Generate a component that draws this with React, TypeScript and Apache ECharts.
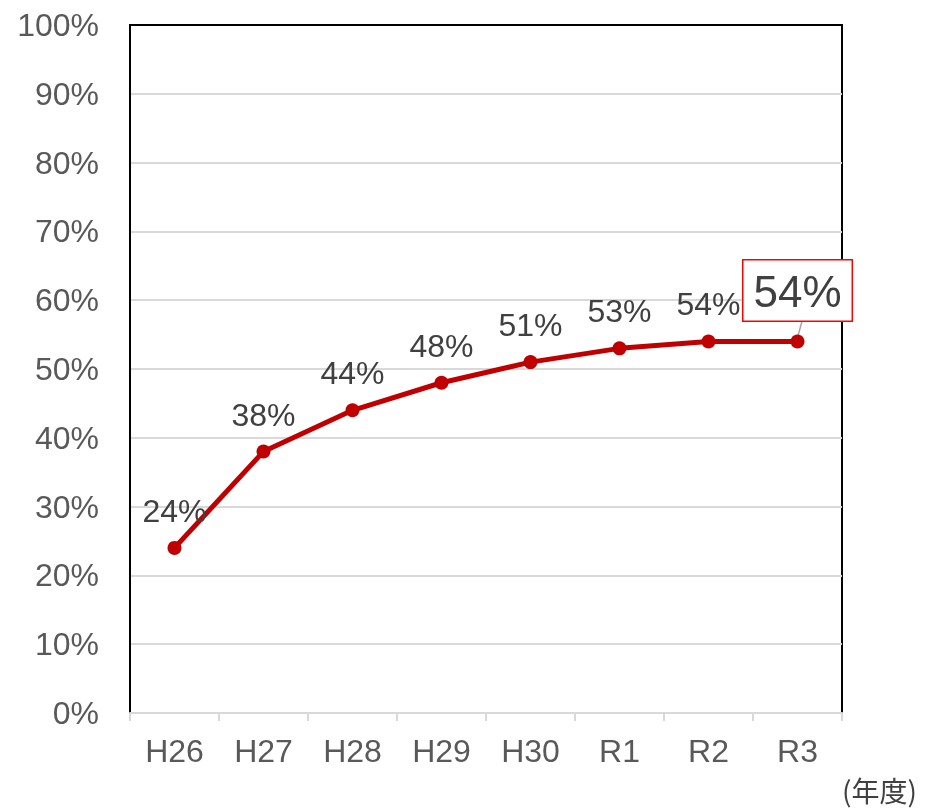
import React, { useEffect, useRef } from "react";
import * as echarts from "echarts";

const categories = ["H26", "H27", "H28", "H29", "H30", "R1", "R2", "R3"];
const values = [24, 38, 44, 48, 51, 53, 54, 54];
const yTicks = [0, 10, 20, 30, 40, 50, 60, 70, 80, 90, 100];
const unitLabel = "(年度)";

export default function App() {
  const ref = useRef<HTMLDivElement>(null);
  useEffect(() => {
    if (!ref.current) return;
    const chart = echarts.init(ref.current, null, { renderer: "svg" });
    const font = "Arial, 'Liberation Sans', sans-serif";
    const last = values.length - 1;
    chart.setOption({
      animation: false,
      grid: {
        left: 130,
        right: 91,
        top: 25,
        bottom: 97,
        show: true,
        borderColor: "#000",
        borderWidth: 2,
      },
      xAxis: [
        {
          type: "category",
          data: categories,
          boundaryGap: true,
          axisLine: { show: true, lineStyle: { color: "#d9d9d9", width: 2 } },
          axisTick: { show: true, length: 8, lineStyle: { color: "#d9d9d9", width: 2 } },
          axisLabel: { color: "#595959", fontSize: 32, fontFamily: font, margin: 22 },
          z: 5,
        },
      ],
      yAxis: [
        {
          type: "value",
          min: yTicks[0],
          max: yTicks[yTicks.length - 1],
          interval: 10,
          axisLine: { show: true, lineStyle: { color: "#000", width: 2 } },
          axisTick: { show: false },
          splitLine: { showMaxLine: false, showMinLine: false, lineStyle: { color: "#d9d9d9", width: 2 } },
          axisLabel: {
            color: "#595959",
            fontSize: 32,
            fontFamily: font,
            margin: 31,
            formatter: "{value}%",
          },
          z: 5,
        },
      ],
      series: [
        {
          type: "line",
          data: values.map((v, i) =>
            i === last
              ? {
                  value: v,
                  label: {
                    fontSize: 44,
                    color: "#404040",
                    borderColor: "#ff0000",
                    borderWidth: 1.5,
                    backgroundColor: "#fff",
                    padding: [9, 10, 7, 10],
                    distance: 14,
                  },
                  labelLayout: { dx: 4, dy: -1 },
                }
              : v
          ),
          lineStyle: { color: "#c00000", width: 5 },
          itemStyle: { color: "#c00000" },
          symbol: "circle",
          symbolSize: 14,
          label: {
            show: true,
            position: "top",
            distance: 14,
            fontSize: 32,
            color: "#404040",
            fontFamily: font,
            formatter: "{c}%",
          },
          z: 10,
        },
      ],
    });
    const p = chart.convertToPixel({ xAxisIndex: 0, yAxisIndex: 0 }, [categories[last], values[last]]) as number[];
    const topY = chart.convertToPixel({ yAxisIndex: 0 }, yTicks[yTicks.length - 1]) as number;
    chart.setOption({
      graphic: [
        {
          type: "text",
          left: 842,
          top: 776,
          style: { text: unitLabel, fontSize: 28, fill: "#404040", fontFamily: "'Noto Sans CJK JP', sans-serif" },
        },
        {
          type: "line",
          shape: { x1: 129, y1: topY, x2: 843, y2: topY },
          style: { stroke: "#000", lineWidth: 2 },
          z: 50,
        },
        {
          type: "line",
          shape: { x1: p[0], y1: p[1] - 4, x2: p[0] + 5, y2: p[1] - 22 },
          style: { stroke: "#a6a6a6", lineWidth: 1.5 },
          z: 1,
        },
      ],
    });
    return () => chart.dispose();
  }, []);
  return <div ref={ref} style={{ position: "fixed", left: 0, top: 0, width: 933, height: 810 }} />;
}
